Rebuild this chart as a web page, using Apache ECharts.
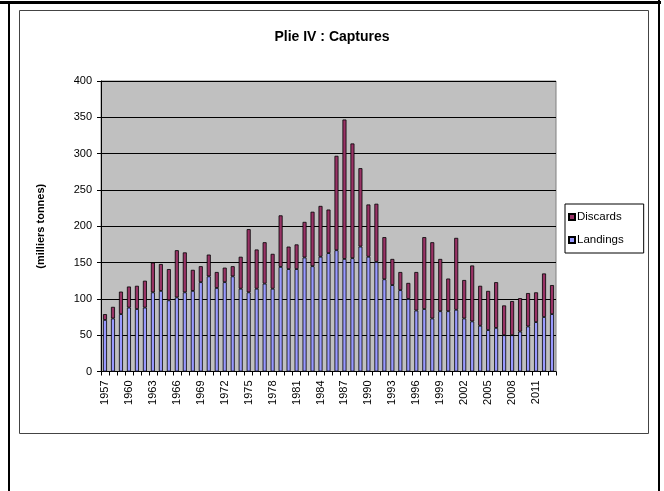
<!DOCTYPE html>
<html>
<head>
<meta charset="utf-8">
<script src="https://cdn.jsdelivr.net/npm/echarts@6/dist/echarts.min.js"></script>
<style>
html,body{margin:0;padding:0;background:#fff;}
#c{width:664px;height:491px;}
</style>
</head>
<body>
<div id="c"></div>
<script>
const years = [];
for (let y = 1957; y <= 2013; y++) years.push(String(y));

const landings = [71,73,79,88,86,88,109,111,98,102,109,111,123,131,115,123,131,114,109,114,121,114,144,141,141,157,145,158,163,167,155,156,172,158,151,127,119,112,100,84,86,73,83,83,85,73,69,63,57,60,50,50,55,62,68,75,79];
const discards = [8,16,31,29,32,37,41,37,43,65,55,29,22,30,22,20,14,44,87,54,57,48,71,31,34,49,75,70,60,130,192,158,108,72,80,58,36,25,22,53,99,105,72,45,99,53,77,55,54,63,41,47,46,46,41,60,40];
const yTicks = [0,50,100,150,200,250,300,350,400];

const FONT = '"Liberation Sans", Arial, sans-serif';
const chart = echarts.init(document.getElementById('c'), null, {renderer:'canvas'});
chart.setOption({
  animation: false,
  backgroundColor: '#ffffff',
  title: {
    text: 'Plie IV : Captures',
    left: 'center',
    top: 25,
    textStyle: {fontFamily: FONT, fontSize: 14, fontWeight: 'bold', color: '#000'}
  },
  legend: {
    orient: 'vertical',
    left: 565,
    top: 204,
    data: ['Discards','Landings'],
    icon: 'rect',
    itemWidth: 6,
    itemHeight: 6,
    itemGap: 11,
    padding: [7, 20, 7, 3],
    borderColor: '#000',
    borderWidth: 1,
    textStyle: {fontFamily: FONT, fontSize: 11.5, color: '#000', padding: [0,0,0,-3]}
  },
  grid: {
    left: 101, top: 81, width: 455, height: 290.5,
    show: true, backgroundColor: '#c0c0c0', borderColor: '#808080', borderWidth: 1
  },
  xAxis: {
    type: 'category',
    data: years,
    boundaryGap: true,
    axisLine: {lineStyle: {color: '#000', width: 1}},
    axisTick: {show: true, interval: 0, length: 4, lineStyle: {color: '#000'}},
    axisLabel: {
      interval: 2, rotate: 90, margin: 9,
      fontFamily: FONT, fontSize: 11, color: '#000'
    }
  },
  yAxis: {
    type: 'value',
    min: yTicks[0], max: yTicks[yTicks.length-1], interval: 50,
    name: '(milliers tonnes)',
    nameLocation: 'middle',
    nameGap: 55,
    nameRotate: 90,
    nameTextStyle: {fontFamily: FONT, fontSize: 11, fontWeight: 'bold', color: '#000'},
    axisLine: {show: true, lineStyle: {color: '#000', width: 1}},
    axisTick: {show: true, length: 4, lineStyle: {color: '#000'}},
    axisLabel: {margin: 9, fontFamily: FONT, fontSize: 11, color: '#000'},
    splitLine: {show: true, lineStyle: {color: '#000', width: 1}}
  },
  series: [
    {
      name: 'Landings', type: 'bar', stack: 'tot', data: landings,
      barWidth: 4,
      itemStyle: {color: '#9999ff', borderColor: '#000', borderWidth: 0.8}
    },
    {
      name: 'Discards', type: 'bar', stack: 'tot', data: discards,
      barWidth: 4,
      itemStyle: {color: '#993366', borderColor: '#000', borderWidth: 0.8}
    }
  ],
  graphic: [
    {type: 'rect', shape: {x: 0, y: 1, width: 661, height: 3}, style: {fill: '#000'}, silent: true},
    {type: 'rect', shape: {x: 8, y: 1, width: 2, height: 490}, style: {fill: '#000'}, silent: true},
    {type: 'rect', shape: {x: 658, y: 0, width: 2, height: 491}, style: {fill: '#000'}, silent: true},
    {type: 'rect', shape: {x: 19.5, y: 10.5, width: 629, height: 423}, style: {fill: 'none', stroke: '#444', lineWidth: 1}, silent: true, z: -1}
  ]
});
</script>
</body>
</html>
